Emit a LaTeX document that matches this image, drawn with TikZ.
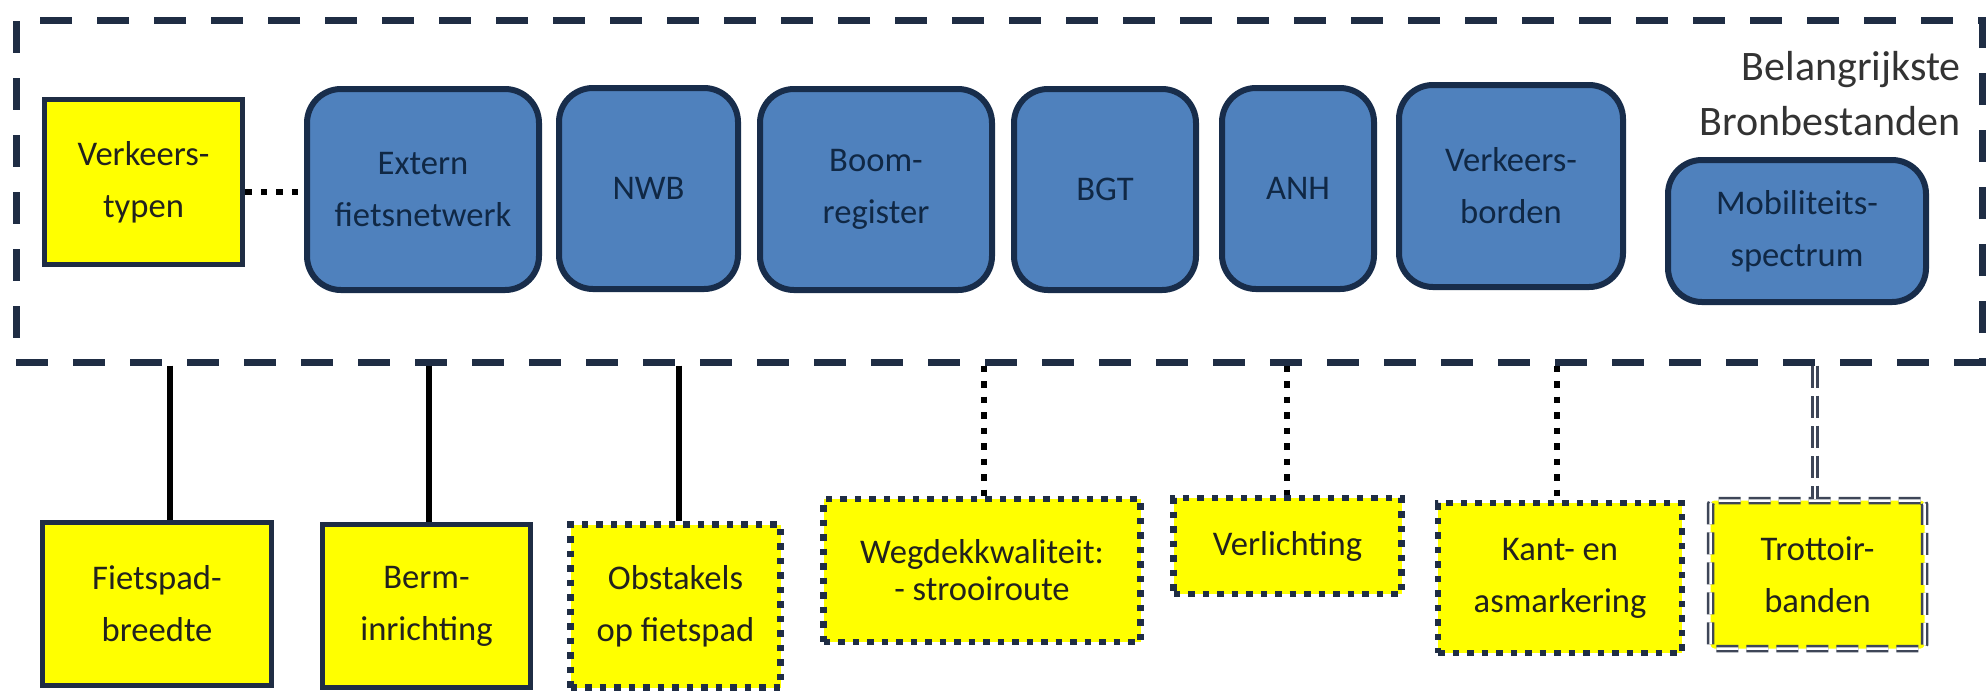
\documentclass[tikz,border=0pt]{standalone}
\usepackage{fontspec}
\setmainfont{Carlito}
\definecolor{framec}{RGB}{31,45,68}
\definecolor{bluefill}{RGB}{79,129,189}
\definecolor{blueedge}{RGB}{24,45,75}
\definecolor{bluetext}{RGB}{16,40,69}
\definecolor{yfill}{RGB}{255,255,0}
\definecolor{ytext}{RGB}{34,34,30}
\definecolor{titlec}{RGB}{51,51,51}
\definecolor{dblcol}{RGB}{62,70,88}
\newcommand\boxfont{\fontsize{17.3}{26}\selectfont}
\newcommand\tightfont{\fontsize{17.3}{18.5}\selectfont}
\newcommand\titlefont{\fontsize{21}{27.5}\selectfont}
\begin{document}
\begin{tikzpicture}[x=0.5pt,y=-0.5pt,
  frame/.style={draw=framec, line width=3.5pt, dash pattern=on 16pt off 12.5pt, inner sep=0pt},
  bluebox/.style={draw=blueedge, fill=bluefill, line width=3pt, rounded corners=17pt,
    text=bluetext, font=\boxfont, align=center, inner sep=0pt},
  ybox/.style={draw=framec, fill=yfill, line width=2.75pt, text=ytext, font=\boxfont,
    align=center, inner sep=0pt},
  ydot/.style={ybox, line width=3.25pt, dash pattern=on 3.25pt off 4pt},
  ydbl/.style={ybox, draw=dblcol, line width=1.25pt, double=white, double distance=1.25pt,
    rounded corners=2pt, dash pattern=on 11pt off 4pt},
  solidc/.style={draw=black, line width=2.75pt},
  dotc/.style={draw=black, line width=3.25pt, dash pattern=on 3.25pt off 4.5pt},
  dblc/.style={draw=dblcol, line width=1.25pt, double=white, double distance=1.25pt,
    dash pattern=on 11pt off 4pt}
]
\useasboundingbox (0,0) rectangle (1986,692);

% frame
\node[frame, minimum width=983pt, minimum height=171pt] (frame) at (999,191) {};
\node[text=titlec, font=\titlefont, align=right, anchor=base east, inner sep=0pt]
  (title) at (1961,135) {Belangrijkste\\Bronbestanden};

% top row
\node[ybox, minimum width=99pt, minimum height=82.5pt] (vt) at (143.5,182) {Verkeers-\\typen};
\node[bluebox, minimum width=116pt, minimum height=100.5pt] (ext) at (423,189.5) {Extern\\fietsnetwerk};
\node[bluebox, minimum width=89.5pt, minimum height=100.5pt] (nwb) at (648.5,188.5) {NWB};
\node[bluebox, minimum width=116pt, minimum height=100.5pt] (boom) at (876,189.5) {Boom-\\register};
\node[bluebox, minimum width=91pt, minimum height=100.5pt] (bgt) at (1105,189.5) {BGT};
\node[bluebox, minimum width=76pt, minimum height=100.5pt] (anh) at (1298,188.5) {ANH};
\node[bluebox, minimum width=112pt, minimum height=101pt] (vb) at (1511,186) {Verkeers-\\borden};
\node[bluebox, minimum width=129pt, minimum height=71pt] (mob) at (1797,231) {Mobiliteits-\\spectrum};

% bottom row
\node[ybox, minimum width=114.5pt, minimum height=81.5pt] (fb) at (157,604) {Fietspad-\\breedte};
\node[ybox, minimum width=104pt, minimum height=81.5pt] (bi) at (426.5,606) {Berm-\\inrichting};
\node[ydot, minimum width=105pt, minimum height=81.5pt] (ob) at (675.5,606) {Obstakels\\op fietspad};
\node[ydot, minimum width=158.5pt, minimum height=71.5pt, font=\tightfont] (wk) at (982,570.5) {Wegdekkwaliteit:\\- strooiroute};
\node[ydot, minimum width=114pt, minimum height=48pt] (vl) at (1287.5,546) {Verlichting};
\node[ydot, minimum width=122pt, minimum height=75pt] (km) at (1560,578) {Kant- en\\asmarkering};
\node[ydbl, minimum width=107pt, minimum height=74pt] (tb) at (1817.5,574.5) {Trottoir-\\banden};

% connectors
\coordinate (yv) at (0,192);
\draw[dotc] (vt.east |- yv) -- (ext.west |- yv);

\coordinate (x1) at (170,0);
\coordinate (x2) at (429,0);
\coordinate (x3) at (679,0);
\coordinate (x4) at (984,0);
\coordinate (x5) at (1287,0);
\coordinate (x6) at (1557,0);
\coordinate (x7) at (1815,0);
\draw[solidc] (frame.south -| x1) -- (fb.north -| x1);
\draw[solidc] (frame.south -| x2) -- (bi.north -| x2);
\draw[solidc] (frame.south -| x3) -- (ob.north -| x3);
\draw[dotc] (frame.south -| x4) -- (wk.north -| x4);
\draw[dotc] (frame.south -| x5) -- (vl.north -| x5);
\draw[dotc] (frame.south -| x6) -- (km.north -| x6);
\draw[dblc] (frame.south -| x7) -- (tb.north -| x7);
\end{tikzpicture}
\end{document}
